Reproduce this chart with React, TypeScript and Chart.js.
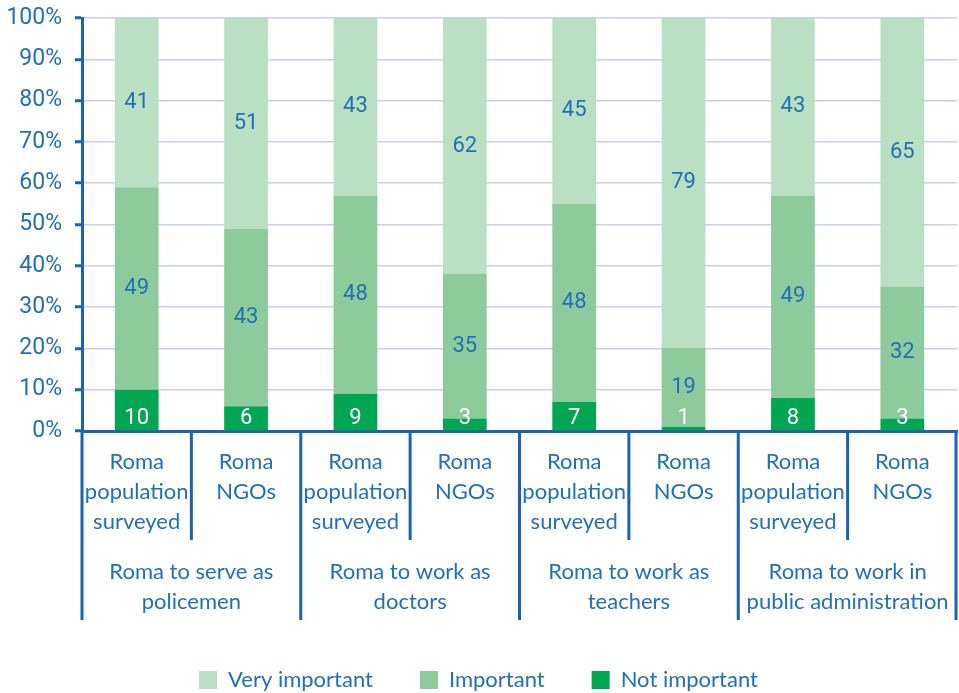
import React, { useEffect, useRef } from "react";
import { Chart, registerables } from "chart.js";

Chart.register(...registerables);

// ---- Data ----
const subLabels: string[][] = [
  ["Roma", "population", "surveyed"],
  ["Roma", "NGOs"],
  ["Roma", "population", "surveyed"],
  ["Roma", "NGOs"],
  ["Roma", "population", "surveyed"],
  ["Roma", "NGOs"],
  ["Roma", "population", "surveyed"],
  ["Roma", "NGOs"],
];
const groupLabels: string[][] = [
  ["Roma to serve as", "policemen"],
  ["Roma to work as", "doctors"],
  ["Roma to work as", "teachers"],
  ["Roma to work in", "public administration"],
];
const notImportant = [10, 6, 9, 3, 7, 1, 8, 3];
const important = [49, 43, 48, 35, 48, 19, 49, 32];
const veryImportant = [41, 51, 43, 62, 45, 79, 43, 65];
const seriesNames = ["Not important", "Important", "Very important"];

// ---- Styles ----
const BLUE = "#1a64ae";
const TEXT_BLUE = "#2170b8";
const COLORS = ["#00a651", "#8dcb9c", "#b9e0c3"];

const totals = notImportant.map((v, i) => v + important[i] + veryImportant[i]);
const share = (arr: number[]) => arr.map((v, i) => (v / totals[i]) * 100);

const segLabels = {
  id: "segLabels",
  afterDatasetsDraw(chart: any) {
    const ctx = chart.ctx;
    ctx.save();
    ctx.font = "22px Roboto";
    ctx.textAlign = "center";
    ctx.textBaseline = "middle";
    chart.data.datasets.forEach((ds: any, di: number) => {
      const meta = chart.getDatasetMeta(di);
      if (meta.hidden) return;
      meta.data.forEach((bar: any, i: number) => {
        const { x, y, base } = bar.getProps(["x", "y", "base"], true);
        const txt = String(ds.rawValues[i]);
        if (di === 0) {
          ctx.fillStyle = "#ffffff";
          ctx.fillText(txt, x, base - 12);
        } else {
          ctx.fillStyle = TEXT_BLUE;
          ctx.fillText(txt, x, (y + base) / 2);
        }
      });
    });
    ctx.restore();
  },
};

const separators = {
  id: "separators",
  afterDraw(chart: any) {
    const ctx = chart.ctx;
    const xs = chart.scales.x;
    const area = chart.chartArea;
    const n = subLabels.length;
    ctx.save();
    ctx.strokeStyle = BLUE;
    ctx.lineWidth = 3;
    for (let i = 0; i <= n; i++) {
      const px = i === 0 ? xs.left : i === n ? xs.right - 1 : (xs.getPixelForValue(i - 1) + xs.getPixelForValue(i)) / 2;
      const isGroup = i % 2 === 0;
      const yEnd = area.bottom + (isGroup ? 189 : 109);
      ctx.beginPath();
      ctx.moveTo(px, area.bottom);
      ctx.lineTo(px, yEnd);
      ctx.stroke();
    }
    ctx.restore();
  },
};

export default function App() {
  const ref = useRef<HTMLCanvasElement | null>(null);
  useEffect(() => {
    if (!ref.current) return;
    const data = [notImportant, important, veryImportant];
    const chart = new Chart(ref.current, {
      type: "bar",
      data: {
        labels: subLabels as any,
        datasets: data.map((arr, k) => ({
          label: seriesNames[k],
          data: share(arr),
          rawValues: arr,
          backgroundColor: COLORS[k],
          borderWidth: 0,
          barPercentage: 0.4,
          categoryPercentage: 1,
        })) as any,
      },
      options: {
        animation: false,
        responsive: false,
        devicePixelRatio: 1,
        layout: { padding: { top: 18, right: 2, bottom: -8, left: 0 } },
        plugins: {
          tooltip: { enabled: false },
          legend: {
            position: "bottom",
            labels: {
              boxWidth: 18,
              boxHeight: 18,
              padding: 47,
              color: TEXT_BLUE,
              font: { family: "Lato", size: 22 },
              sort: (a: any, b: any) => b.datasetIndex - a.datasetIndex,
            },
          },
        },
        scales: {
          x: {
            stacked: true,
            position: "bottom",
            grid: { display: true, drawOnChartArea: false, drawTicks: false },
            border: { display: true, color: BLUE, width: 3 },
            ticks: {
              color: TEXT_BLUE,
              font: { family: "Lato", size: 22, lineHeight: 30 / 22 },
              maxRotation: 0,
              autoSkip: false,
              padding: 16,
            },
            afterFit: (s: any) => {
              s.height = 110;
            },
          },
          x2: {
            type: "category",
            labels: groupLabels as any,
            position: "bottom",
            offset: true,
            grid: { display: false },
            border: { display: false },
            ticks: {
              color: TEXT_BLUE,
              font: { family: "Lato", size: 22, lineHeight: 30 / 22 },
              maxRotation: 0,
              autoSkip: false,
              padding: 8,
            },
            afterFit: (s: any) => {
              s.height = 81;
            },
          },
          y: {
            stacked: true,
            min: 0,
            max: 100,
            grid: { color: "#c8d0ea", lineWidth: 1.5, tickLength: 7, tickColor: BLUE, tickWidth: 3 },
            border: { display: true, color: BLUE, width: 3 },
            ticks: {
              stepSize: 10,
              color: TEXT_BLUE,
              font: { family: "Roboto", size: 23 },
              padding: 13,
              callback: (v: any) => v + "%",
            },
            afterFit: (s: any) => {
              s.width = 82;
              s.paddingTop = 0;
              s.paddingBottom = 0;
            },
          },
        },
      } as any,
      plugins: [segLabels, separators],
    });
    return () => chart.destroy();
  }, []);
  return (
    <div style={{ position: "absolute", left: 0, top: 0, width: 959, height: 693, background: "#fff" }}>
      <canvas ref={ref} width={959} height={693} />
    </div>
  );
}
